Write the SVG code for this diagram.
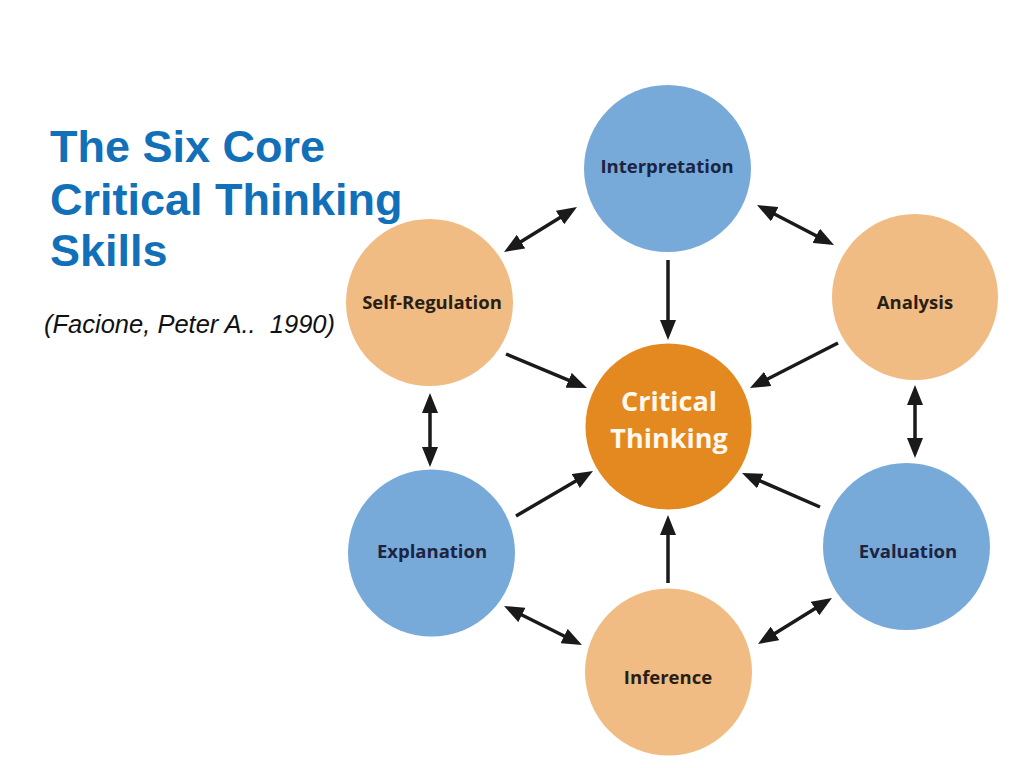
<svg xmlns="http://www.w3.org/2000/svg" width="1024" height="768" viewBox="0 0 1024 768">
<style>
.title{font-family:"Liberation Sans",Arial,sans-serif;font-weight:bold;font-size:45px;fill:#1270B9}
.cite{font-family:"Liberation Sans",Arial,sans-serif;font-style:italic;font-size:25.5px;fill:#111}
.blue{fill:#78AAD9}
.tan{fill:#F0BC84}
.core{fill:#E3891F}
.lbl{font-family:"Open Sans","Noto Sans",sans-serif;font-weight:bold;font-size:18.5px;text-anchor:middle}
.lb{fill:#1B2440}
.lt{fill:#2A1E14}
.ct{font-family:"Open Sans","Noto Sans",sans-serif;font-weight:bold;font-size:27px;text-anchor:middle;fill:#FFF8EE}
.c{stroke:#1a1a1a;stroke-width:3.5;fill:none}
.one{marker-end:url(#ah)}
.two{marker-start:url(#ah);marker-end:url(#ah)}
</style>
<defs>
<marker id="ah" markerUnits="userSpaceOnUse" viewBox="0 0 20 16" markerWidth="20" markerHeight="16" refX="14" refY="8" orient="auto-start-reverse">
<path d="M0,0 L20,8 L0,16 z" fill="#1a1a1a"/>
</marker>
</defs>
<rect width="1024" height="768" fill="#fff"/>
<g id="title">
<text class="title" x="50" y="162">The Six Core</text>
<text class="title" x="50" y="215">Critical Thinking</text>
<text class="title" x="50" y="266">Skills</text>
<text class="cite" x="44" y="333" xml:space="preserve">(Facione, Peter A..  1990)</text>
</g>
<g id="connectors">
<line class="c two" x1="571.9" y1="210.2" x2="509.1" y2="248.9"/>
<line class="c two" x1="762.3" y1="207.8" x2="828.7" y2="242.2"/>
<line class="c one" x1="668" y1="260" x2="668" y2="334"/>
<line class="c one" x1="506" y1="354" x2="581.5" y2="385.7"/>
<line class="c one" x1="838" y1="343" x2="755.3" y2="385.3"/>
<line class="c two" x1="430" y1="399" x2="430" y2="461"/>
<line class="c two" x1="915" y1="391" x2="915" y2="452"/>
<line class="c one" x1="516" y1="516" x2="587.8" y2="474"/>
<line class="c one" x1="820" y1="507" x2="747.5" y2="475.4"/>
<line class="c one" x1="668" y1="583" x2="668" y2="521"/>
<line class="c two" x1="509.4" y1="608.7" x2="576.6" y2="642.3"/>
<line class="c two" x1="826.9" y1="601.2" x2="763.1" y2="640.8"/>
</g>
<g id="interpretation">
<circle class="blue" cx="667.5" cy="168.5" r="83.5"/>
<text class="lbl lb" x="667" y="173">Interpretation</text>
</g>
<g id="self-regulation">
<circle class="tan" cx="429.5" cy="302.5" r="83.5"/>
<text class="lbl lt" x="432" y="309">Self-Regulation</text>
</g>
<g id="analysis">
<circle class="tan" cx="915" cy="297" r="83"/>
<text class="lbl lt" x="915" y="309">Analysis</text>
</g>
<g id="critical-thinking">
<circle class="core" cx="668.5" cy="426.5" r="83"/>
<text class="ct" x="669" y="411">Critical</text>
<text class="ct" x="669" y="448">Thinking</text>
</g>
<g id="explanation">
<circle class="blue" cx="431.5" cy="553" r="83.5"/>
<text class="lbl lb" x="432" y="558">Explanation</text>
</g>
<g id="evaluation">
<circle class="blue" cx="906.5" cy="546.5" r="83.5"/>
<text class="lbl lb" x="908" y="558">Evaluation</text>
</g>
<g id="inference">
<circle class="tan" cx="668.5" cy="672" r="83.5"/>
<text class="lbl lt" x="668" y="684">Inference</text>
</g>
</svg>
